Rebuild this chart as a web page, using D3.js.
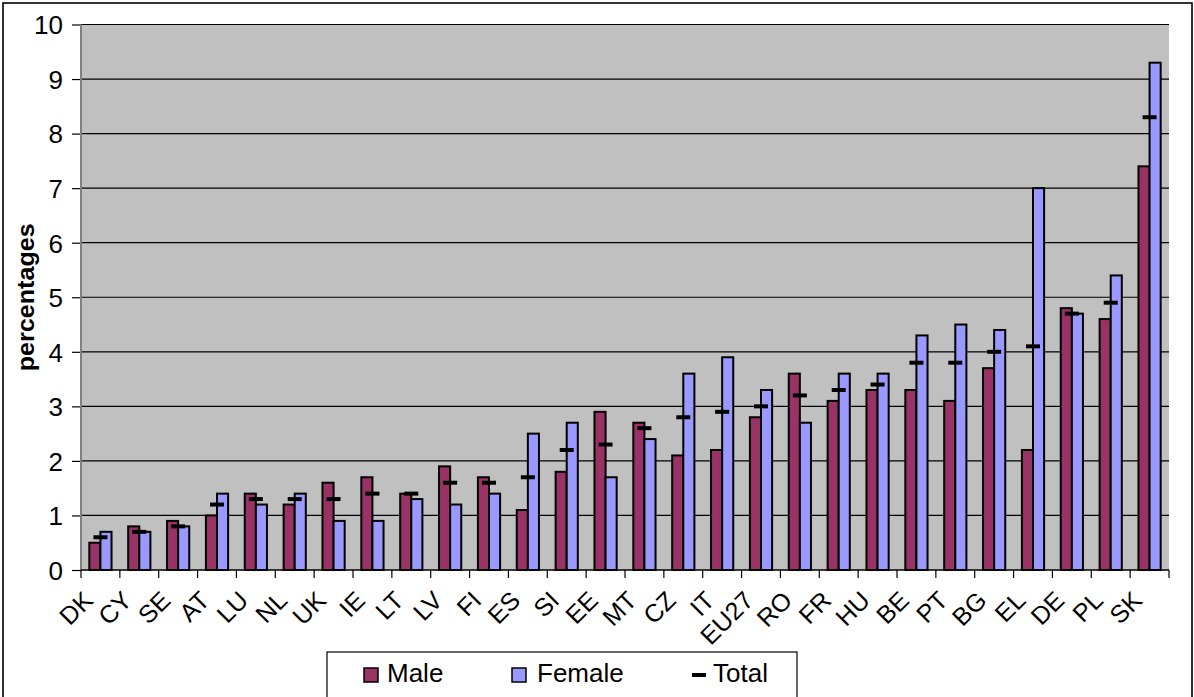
<!DOCTYPE html>
<html>
<head>
<meta charset="utf-8">
<script src="https://cdn.jsdelivr.net/npm/d3@7"></script>
<style>
  html, body { margin: 0; padding: 0; background: #ffffff; }
  svg { display: block; }
  text { font-family: Arial, "Liberation Sans", sans-serif; fill: #000; }
</style>
</head>
<body>
<svg id="chart" width="1194" height="697"></svg>
<script>
// Unemployment-type rates by country, in percentages
const categories = ["DK","CY","SE","AT","LU","NL","UK","IE","LT","LV","FI","ES","SI","EE","MT","CZ","IT","EU27","RO","FR","HU","BE","PT","BG","EL","DE","PL","SK"];
const maleValues   = [0.5,0.8,0.9,1.0,1.4,1.2,1.6,1.7,1.4,1.9,1.7,1.1,1.8,2.9,2.7,2.1,2.2,2.8,3.6,3.1,3.3,3.3,3.1,3.7,2.2,4.8,4.6,7.4];
const femaleValues = [0.7,0.7,0.8,1.4,1.2,1.4,0.9,0.9,1.3,1.2,1.4,2.5,2.7,1.7,2.4,3.6,3.9,3.3,2.7,3.6,3.6,4.3,4.5,4.4,7.0,4.7,5.4,9.3];
const totalValues  = [0.6,0.7,0.8,1.2,1.3,1.3,1.3,1.4,1.4,1.6,1.6,1.7,2.2,2.3,2.6,2.8,2.9,3.0,3.2,3.3,3.4,3.8,3.8,4.0,4.1,4.7,4.9,8.3];
const yTicks = [0,1,2,3,4,5,6,7,8,9,10];
const seriesNames = ["Male","Female","Total"];

const MALE = "#993366", FEMALE = "#9999FF", PLOT_BG = "#C0C0C0";

const svg = d3.select("#chart");
const plot = { left: 81, right: 1169, top: 24.5, bottom: 570 };

// outer chart frame
svg.append("rect")
  .attr("x", 3).attr("y", 3).attr("width", 1189).attr("height", 710)
  .attr("fill", "#fff").attr("stroke", "#000").attr("stroke-width", 1.6);

const x = d3.scaleBand().domain(categories).range([plot.left, plot.right]).paddingInner(0).paddingOuter(0);
const y = d3.scaleLinear().domain([0, 10]).range([plot.bottom, plot.top]);

// plot background
svg.append("rect")
  .attr("x", plot.left).attr("y", plot.top)
  .attr("width", plot.right - plot.left).attr("height", plot.bottom - plot.top)
  .attr("fill", PLOT_BG);

// y axis with gridlines
const yAxis = d3.axisLeft(y).tickValues(yTicks).tickSize(9).tickPadding(9).tickFormat(d3.format("d"));
const gy = svg.append("g").attr("transform", `translate(${plot.left},0)`).call(yAxis);
gy.select(".domain").remove();
gy.selectAll(".tick line").attr("stroke", "#000").attr("stroke-width", 1.2);
gy.selectAll(".tick text").attr("font-size", 26).attr("dy", "0.36em");

svg.append("g").selectAll("line.grid")
  .data(yTicks.filter(d => d > 0))
  .join("line")
  .attr("x1", plot.left).attr("x2", plot.right)
  .attr("y1", d => y(d)).attr("y2", d => y(d))
  .attr("stroke", "#000").attr("stroke-width", 1.2);

// left axis line
svg.append("line")
  .attr("x1", plot.left).attr("x2", plot.left)
  .attr("y1", plot.top).attr("y2", plot.bottom)
  .attr("stroke", "#808080").attr("stroke-width", 2);

// bars
const bw = x.bandwidth() / 3.5;
const bars = svg.append("g");
bars.selectAll("rect.male")
  .data(categories)
  .join("rect")
  .attr("class", "male")
  .attr("x", (d) => x(d) + bw * 0.75)
  .attr("y", (d, i) => y(maleValues[i]))
  .attr("width", bw)
  .attr("height", (d, i) => y(0) - y(maleValues[i]))
  .attr("fill", MALE).attr("stroke", "#000").attr("stroke-width", 2);

bars.selectAll("rect.female")
  .data(categories)
  .join("rect")
  .attr("class", "female")
  .attr("x", (d) => x(d) + bw * 1.75)
  .attr("y", (d, i) => y(femaleValues[i]))
  .attr("width", bw)
  .attr("height", (d, i) => y(0) - y(femaleValues[i]))
  .attr("fill", FEMALE).attr("stroke", "#000").attr("stroke-width", 2);

// total markers (short dashes)
const dashW = 14, dashH = 4;
svg.append("g").selectAll("rect.total")
  .data(categories)
  .join("rect")
  .attr("class", "total")
  .attr("x", d => x(d) + x.bandwidth() / 2 - dashW / 2)
  .attr("y", (d, i) => y(totalValues[i]) - dashH / 2)
  .attr("width", dashW).attr("height", dashH)
  .attr("fill", "#000");

// x axis line and category ticks
svg.append("line")
  .attr("x1", plot.left).attr("x2", plot.right)
  .attr("y1", plot.bottom).attr("y2", plot.bottom)
  .attr("stroke", "#000").attr("stroke-width", 1.5);

const boundaries = categories.map(c => x(c)).concat([plot.right]);
svg.append("g").selectAll("line.xtick")
  .data(boundaries)
  .join("line")
  .attr("x1", d => d).attr("x2", d => d)
  .attr("y1", plot.bottom).attr("y2", plot.bottom + 8)
  .attr("stroke", "#000").attr("stroke-width", 1.2);

// rotated category labels
svg.append("g").selectAll("text.xlabel")
  .data(categories)
  .join("text")
  .attr("class", "xlabel")
  .attr("font-size", 25)
  .attr("text-anchor", "end")
  .attr("transform", d => `translate(${x(d) + x.bandwidth() / 2 - 6},${plot.bottom + 32}) rotate(-45)`)
  .text(d => d);

// y axis title
svg.append("text")
  .attr("transform", `translate(34,${(plot.top + plot.bottom) / 2}) rotate(-90)`)
  .attr("text-anchor", "middle")
  .attr("font-size", 23).attr("font-weight", "bold")
  .attr("textLength", 148).attr("lengthAdjust", "spacingAndGlyphs")
  .text("percentages");

// legend
const legend = svg.append("g");
legend.append("rect")
  .attr("x", 327).attr("y", 652).attr("width", 470).attr("height", 80)
  .attr("fill", "#fff").attr("stroke", "#000").attr("stroke-width", 1.2);

const legendItems = [
  { name: seriesNames[0], kind: "box", color: MALE, sx: 364, tx: 387 },
  { name: seriesNames[1], kind: "box", color: FEMALE, sx: 512, tx: 537 },
  { name: seriesNames[2], kind: "dash", color: "#000", sx: 692, tx: 713 }
];
legendItems.forEach(it => {
  if (it.kind === "box") {
    legend.append("rect")
      .attr("x", it.sx).attr("y", 668).attr("width", 14).attr("height", 14)
      .attr("fill", it.color).attr("stroke", "#000").attr("stroke-width", 1.5);
  } else {
    legend.append("rect")
      .attr("x", it.sx).attr("y", 673).attr("width", 14).attr("height", 4)
      .attr("fill", it.color);
  }
  legend.append("text")
    .attr("x", it.tx).attr("y", 682)
    .attr("font-size", 26)
    .text(it.name);
});
</script>
</body>
</html>
